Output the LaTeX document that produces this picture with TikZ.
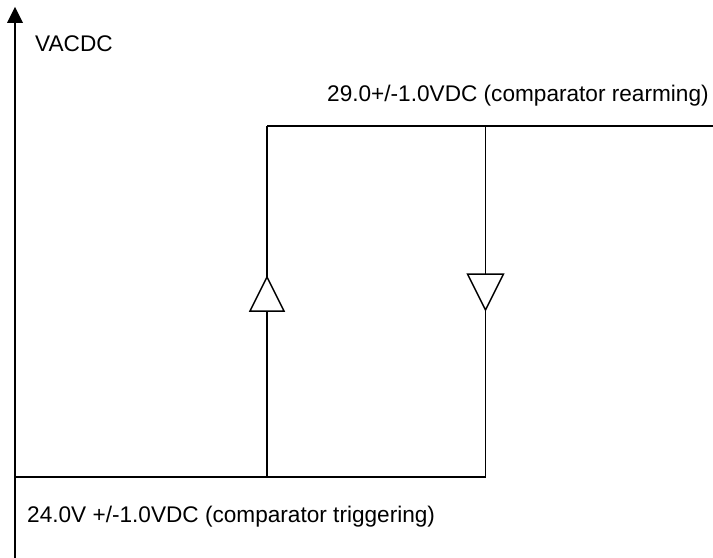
\documentclass[tikz,border=0pt]{standalone}
\usepackage{fontspec}
\setmainfont{Liberation Sans}
\begin{document}
\begin{tikzpicture}[x=1bp,y=-1bp,
  thinln/.style={line width=1.5bp, line cap=butt},
  thickln/.style={line width=2.6bp},
  tri/.style={line width=1.5bp, line join=miter},
  lbl/.style={anchor=base west, inner sep=0pt, font=\fontsize{22.7}{27}\selectfont}]
\useasboundingbox (0,0) rectangle (713,558);
% axis
\coordinate (tip) at (15,7);
\coordinate (abase) at (15,23);
\coordinate (tstart) at (15,64);
\coordinate (abot) at (15,558);
\fill (tip) -- (7,23) -- (23,23) -- cycle;
\draw[thinln] (abase) -- (tstart);
\draw[thickln] (tstart) -- (abot);
% bottom line
\coordinate (b0) at (14,477);
\coordinate (b1) at (300,477);
\coordinate (bL) at (267,477);
\coordinate (bR) at (485.5,477);
\draw[thickln] (b0) -- (b1);
\draw[thinln] (b1) -- (bR);
% top line
\coordinate (tL) at (267,126);
\coordinate (tR) at (485.5,126);
\coordinate (tE) at (713,126);
\draw[thinln] (tL) -- (tE);
% left branch with up triangle
\coordinate (uApex) at (267,277);
\coordinate (uBase) at (267,311);
\draw[thinln] (tL) -- (uApex);
\draw[tri] (uApex) -- (250,311) -- (284,311) -- cycle;
\draw[thinln] (uBase) -- (bL);
% right branch with down triangle
\coordinate (dBase) at (485.5,274);
\coordinate (dApex) at (485.5,310);
\draw[thinln] (tR) -- (dBase);
\draw[tri] (467.5,274) -- (503.5,274) -- (dApex) -- cycle;
\draw[thinln, line cap=square] (dApex) -- (bR);
% labels
\node[lbl] (vac) at (35,51.5) {VACDC};
\node[lbl] (top) at (327,101.5) {29.0+/-1.0VDC (comparator rearming)};
\node[lbl] (bot) at (27,522.5) {24.0V +/-1.0VDC (comparator triggering)};
\end{tikzpicture}
\end{document}
